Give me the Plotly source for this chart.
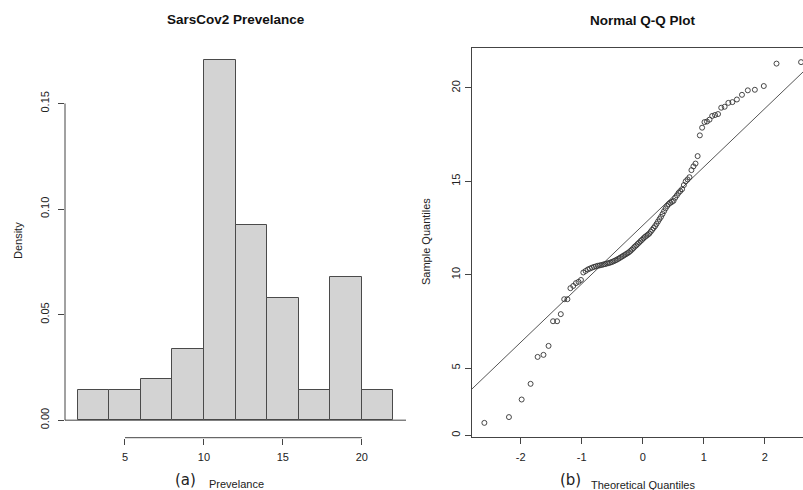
import plotly.graph_objects as go
from statistics import NormalDist

W, H = 803, 490

# ---------------- data ----------------
bin_edges = [2, 4, 6, 8, 10, 12, 14, 16, 18, 20, 22]
density = [0.0141, 0.0141, 0.0193, 0.0337, 0.1704, 0.0923, 0.0580, 0.0141, 0.0676, 0.0141]
hist_xticks = [5, 10, 15, 20]
hist_yticks = [0.00, 0.05, 0.10, 0.15]
hist_yticktext = ["0.00", "0.05", "0.10", "0.15"]

sample_quantiles = [
    2.07, 2.38, 3.32, 4.16, 5.60, 5.71, 6.19, 7.51, 7.51, 7.89,
    8.69, 8.69, 9.28, 9.40, 9.55, 9.62, 9.72, 10.12, 10.20, 10.28,
    10.33, 10.38, 10.42, 10.45, 10.48, 10.50, 10.52, 10.55, 10.57, 10.60,
    10.62, 10.65, 10.68, 10.72, 10.76, 10.80, 10.85, 10.90, 10.95, 11.00,
    11.05, 11.10, 11.15, 11.20, 11.27, 11.34, 11.42, 11.50, 11.57, 11.65,
    11.72, 11.80, 11.87, 11.95, 12.02, 12.08, 12.14, 12.20, 12.30, 12.40,
    12.50, 12.60, 12.72, 12.85, 12.98, 13.10, 13.25, 13.40, 13.55, 13.68,
    13.78, 13.85, 13.90, 13.96, 14.12, 14.25, 14.38, 14.48, 14.58, 14.80,
    15.00, 15.10, 15.22, 15.60, 15.80, 15.95, 16.35, 17.46, 17.87, 18.17,
    18.20, 18.30, 18.50, 18.55, 18.60, 18.94, 18.99, 19.20, 19.24, 19.38,
    19.63, 19.87, 19.90, 20.10, 21.30, 21.38,
]
qq_xticks = [-2, -1, 0, 1, 2]
qq_yticks = [5, 10, 15, 20]
qq_yticktext = ["0", "5", "10", "15", "20"]

# ---------------- derived ----------------
n = len(sample_quantiles)
a = 0.375 if n <= 10 else 0.5
nd = NormalDist()
theoretical = [nd.inv_cdf((i - a) / (n + 1 - 2 * a)) for i in range(1, n + 1)]
ys = sorted(sample_quantiles)


def quant(v, p):
    h = (len(v) - 1) * p
    lo = int(h)
    hi = min(lo + 1, len(v) - 1)
    return v[lo] + (h - lo) * (v[hi] - v[lo])


q1, q3 = quant(ys, 0.25), quant(ys, 0.75)
z1, z3 = nd.inv_cdf(0.25), nd.inv_cdf(0.75)
slope = (q3 - q1) / (z3 - z1)
intercept = q1 - slope * z1

centers = [(bin_edges[i] + bin_edges[i + 1]) / 2 for i in range(len(density))]
widths = [bin_edges[i + 1] - bin_edges[i] for i in range(len(density))]


def fx(p):
    return p / W


def fy(p):
    return 1 - p / H


# axis ranges
xr = bin_edges[-1] - bin_edges[0]
hx_range = [bin_edges[0] - 0.04 * xr, bin_edges[-1] + 0.04 * xr]
hy_range = [-0.0083, 1.04 * max(density)]

tx_span = theoretical[-1] - theoretical[0]
qx_lo = theoretical[0] - 0.04 * tx_span
qx_hi = qx_lo + (W - 471.7) / 61.0
ys_span = ys[-1] - ys[0]
qy_range = [ys[0] - 0.04 * ys_span, ys[-1] + 0.04 * ys_span]
qy_tickvals = [qy_range[0] + 0.1] + qq_yticks

line_x = [qx_lo, qx_hi]
line_y = [intercept + slope * v for v in line_x]

TICKFONT = dict(family="Liberation Sans, Arial, sans-serif", size=11, color="#222222")

fig = go.Figure()
fig.add_trace(go.Bar(
    x=centers, y=density, width=widths,
    marker=dict(color="#D3D3D3", line=dict(color="#4a4a4a", width=1)),
    xaxis="x", yaxis="y", showlegend=False, hoverinfo="skip",
))
fig.add_trace(go.Scatter(
    x=line_x, y=line_y, mode="lines",
    line=dict(color="#555555", width=1),
    xaxis="x2", yaxis="y2", showlegend=False, hoverinfo="skip",
))
fig.add_trace(go.Scatter(
    x=theoretical, y=ys, mode="markers",
    marker=dict(symbol="circle-open", size=5, color="#333333", line=dict(width=0.9)),
    xaxis="x2", yaxis="y2", showlegend=False,
))

common = dict(showgrid=False, zeroline=False, ticks="outside", ticklen=6,
              tickcolor="#444444", tickwidth=1, tickfont=TICKFONT)

fig.update_layout(
    width=W, height=H,
    margin=dict(l=0, r=0, t=0, b=0),
    paper_bgcolor="white", plot_bgcolor="white",
    bargap=0,
    xaxis=dict(domain=[fx(65), fx(406)], range=hx_range, anchor="y",
               tickvals=hist_xticks, showline=False, ticklabelstandoff=3, **common),
    yaxis=dict(domain=[fy(437.7), fy(46)], range=hy_range, anchor="x",
               tickvals=hist_yticks, ticktext=hist_yticktext, tickangle=-90,
               showline=False, ticklabelstandoff=5, **common),
    xaxis2=dict(domain=[fx(471.7), 1.0], range=[qx_lo, qx_hi], anchor="y2",
                tickvals=qq_xticks, ticktext=["-2", "-1", "0", "1", "2"],
                showline=True, mirror=True, linecolor="#444444", linewidth=1,
                ticklabelstandoff=3, **common),
    yaxis2=dict(domain=[fy(437.3), fy(47.7)], range=qy_range, anchor="x2",
                tickvals=qy_tickvals, ticktext=qq_yticktext, tickangle=-90,
                showline=True, linecolor="#444444", linewidth=1, **common),
    shapes=[
        dict(type="line", xref="x domain", yref="y", x0=0, x1=0,
             y0=hist_yticks[0], y1=hist_yticks[-1], line=dict(color="#444444", width=1)),
        dict(type="line", xref="x", yref="y domain", x0=hist_xticks[0], x1=hist_xticks[-1],
             y0=0, y1=0, line=dict(color="#444444", width=1)),
        dict(type="line", xref="x domain", yref="y", x0=0, x1=1, y0=0, y1=0,
             line=dict(color="#444444", width=1)),
    ],
)

ann_font = dict(family="Liberation Sans, Arial, sans-serif", size=11, color="#222222")
title_font = dict(family="Liberation Sans, Arial, sans-serif", size=13.5, color="#111111")
tag_font = dict(family="DejaVu Sans, sans-serif", size=15, color="#222222")


def ann(text, x, y, font, angle=0):
    fig.add_annotation(text=text, x=fx(x), y=fy(y), xref="paper", yref="paper",
                       showarrow=False, xanchor="center", yanchor="middle",
                       font=font, textangle=angle)


ann("<b>SarsCov2 Prevelance</b>", 236, 19, title_font)
ann("<b>Normal Q-Q Plot</b>", 642.7, 20, title_font)
ann("Density", 18, 241, ann_font, -90)
ann("Sample Quantiles", 426, 242, ann_font, -90)
ann("Prevelance", 236, 484, ann_font)
ann("Theoretical Quantiles", 643, 485, ann_font)
ann("(a)", 185, 480, tag_font)
ann("(b)", 570, 480, tag_font)

fig.write_html("out.html")
